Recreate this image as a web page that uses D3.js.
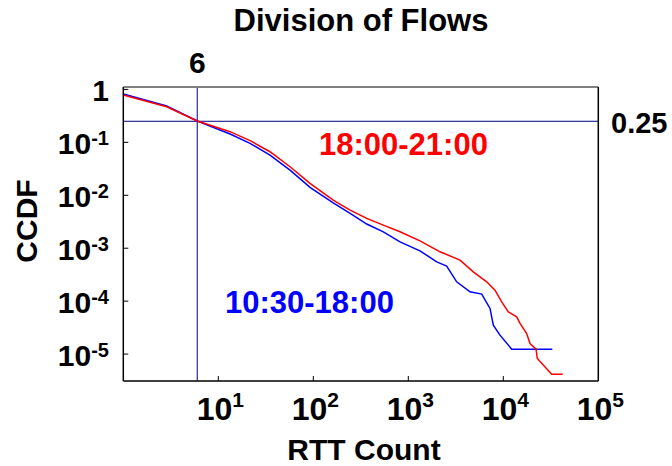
<!DOCTYPE html>
<html>
<head>
<meta charset="utf-8">
<script src="https://cdn.jsdelivr.net/npm/d3@7"></script>
<style>
  body { margin: 0; background: #fff; }
  text { font-family: "Liberation Sans", Arial, sans-serif; font-weight: bold; }
</style>
</head>
<body>
<div id="chart"></div>
<script>
// CCDF of RTT count per flow, two time windows
const eveningCounts = [1, 2.86, 6.01, 13.3, 21.6, 35.0, 56.9, 92.3, 162, 244, 365, 546, 818, 1327, 2158, 3505, 4831, 6685, 8180, 9620, 11290, 13840, 15000, 17630, 19100, 22100, 22800, 32300, 42200];
const eveningCcdf = [0.784, 0.471, 0.253, 0.159, 0.108, 0.0664, 0.0346, 0.0168, 0.00811, 0.00525, 0.00366, 0.00273, 0.00204, 0.00138, 0.000855, 0.000596, 0.000358, 0.000232, 0.000161, 0.000097, 0.0000628, 0.0000505, 0.0000379, 0.0000245, 0.0000158, 0.0000124, 0.00000826, 0.00000417, 0.00000417];

const dayCounts = [1, 2.86, 6.01, 13.3, 21.6, 35.0, 56.9, 92.3, 162, 244, 365, 546, 818, 1327, 1990, 2535, 3230, 4460, 5930, 7250, 7850, 9230, 12250, 32800];
const dayCcdf = [0.819, 0.485, 0.253, 0.144, 0.0957, 0.0575, 0.0299, 0.0141, 0.00721, 0.00455, 0.00286, 0.00204, 0.00132, 0.000893, 0.000553, 0.000459, 0.000232, 0.000150, 0.000136, 0.0000728, 0.0000352, 0.0000228, 0.0000124, 0.0000124];

const xTickExps = [1, 2, 3, 4, 5];
const yTickExps = [0, -1, -2, -3, -4, -5];
const markCount = 6;      // vertical reference line
const markCcdf = 0.25;    // horizontal reference line

const W = 672, H = 466;
const pLeft = 123.3, pRight = 598.3, pTop = 87, pBottom = 381;

const svg = d3.select("#chart").append("svg")
  .attr("width", W).attr("height", H);

const x = d3.scaleLog().domain([1, 1e5]).range([pLeft, pRight]);
const y = d3.scaleLog().domain([3.1e-6, 1.11]).range([pBottom, pTop]);

svg.append("defs").append("clipPath").attr("id", "plotClip")
  .append("rect").attr("x", pLeft).attr("y", pTop)
  .attr("width", pRight - pLeft).attr("height", pBottom - pTop);

// title
svg.append("text")
  .attr("x", 361).attr("y", 31)
  .attr("text-anchor", "middle")
  .style("font-size", "31px")
  .text("Division of Flows");

// reference lines
svg.append("line")
  .attr("x1", x(markCount)).attr("x2", x(markCount))
  .attr("y1", pTop).attr("y2", pBottom)
  .attr("stroke", "#000080").attr("stroke-width", 1);
svg.append("line")
  .attr("x1", pLeft).attr("x2", pRight)
  .attr("y1", y(markCcdf)).attr("y2", y(markCcdf))
  .attr("stroke", "#000080").attr("stroke-width", 1);

svg.append("text")
  .attr("x", x(markCount)).attr("y", 72.5)
  .attr("text-anchor", "middle")
  .style("font-size", "30px")
  .text(markCount);
svg.append("text")
  .attr("x", 611).attr("y", y(markCcdf) + 12)
  .style("font-size", "29px")
  .text(markCcdf);

// curves
const line = d3.line()
  .x(d => x(d[0]))
  .y(d => y(d[1]));

const curves = svg.append("g").attr("clip-path", "url(#plotClip)");
curves.append("path")
  .datum(dayCounts.map((c, i) => [c, dayCcdf[i]]))
  .attr("d", line)
  .attr("fill", "none").attr("stroke", "#0000ff").attr("stroke-width", 1.5);
curves.append("path")
  .datum(eveningCounts.map((c, i) => [c, eveningCcdf[i]]))
  .attr("d", line)
  .attr("fill", "none").attr("stroke", "#ff0000").attr("stroke-width", 1.5);

// frame
svg.append("line").attr("x1", pLeft).attr("x2", pRight).attr("y1", pTop).attr("y2", pTop)
  .attr("stroke", "#808080").attr("stroke-width", 2);
svg.append("line").attr("x1", pLeft).attr("x2", pLeft).attr("y1", pTop).attr("y2", pBottom)
  .attr("stroke", "#000").attr("stroke-width", 1.5);
svg.append("line").attr("x1", pLeft).attr("x2", pRight).attr("y1", pBottom).attr("y2", pBottom)
  .attr("stroke", "#000").attr("stroke-width", 1.5);
svg.append("line").attr("x1", pRight).attr("x2", pRight).attr("y1", pTop).attr("y2", pBottom)
  .attr("stroke", "#000").attr("stroke-width", 1.5);

// x ticks
const xt = svg.append("g");
xTickExps.forEach(e => {
  const px = x(Math.pow(10, e));
  if (e < 5) {
    xt.append("line").attr("x1", px).attr("x2", px)
      .attr("y1", pBottom).attr("y2", pBottom - 5)
      .attr("stroke", "#000").attr("stroke-width", 1);
  }
  const t = xt.append("text")
    .attr("x", px + 2).attr("y", 420)
    .attr("text-anchor", "middle")
    .style("font-size", "32px");
  t.append("tspan").text("10");
  t.append("tspan").attr("dy", -13).style("font-size", "21px").text(e);
});

// y ticks
const yt = svg.append("g");
yTickExps.forEach(e => {
  const py = y(Math.pow(10, e));
  yt.append("line").attr("x1", pLeft).attr("x2", pLeft + 5)
    .attr("y1", py).attr("y2", py)
    .attr("stroke", "#000").attr("stroke-width", 1);
  const t = yt.append("text")
    .attr("x", 109).attr("y", py + 11.5)
    .attr("text-anchor", "end")
    .style("font-size", "30px");
  if (e === 0) {
    t.text("1");
  } else {
    t.append("tspan").text("10");
    t.append("tspan").attr("dy", -9).style("font-size", "20px").text(e);
  }
});

// axis labels
svg.append("text")
  .attr("x", 364).attr("y", 460)
  .attr("text-anchor", "middle")
  .style("font-size", "30px")
  .text("RTT Count");
svg.append("text")
  .attr("transform", "translate(37,221) rotate(-90)")
  .attr("text-anchor", "middle")
  .style("font-size", "30px")
  .text("CCDF");

// series labels
svg.append("text")
  .attr("x", 319).attr("y", 155)
  .attr("fill", "#ff0000")
  .style("font-size", "31px")
  .text("18:00-21:00");
svg.append("text")
  .attr("x", 225).attr("y", 313)
  .attr("fill", "#0000ff")
  .style("font-size", "31px")
  .text("10:30-18:00");
</script>
</body>
</html>
